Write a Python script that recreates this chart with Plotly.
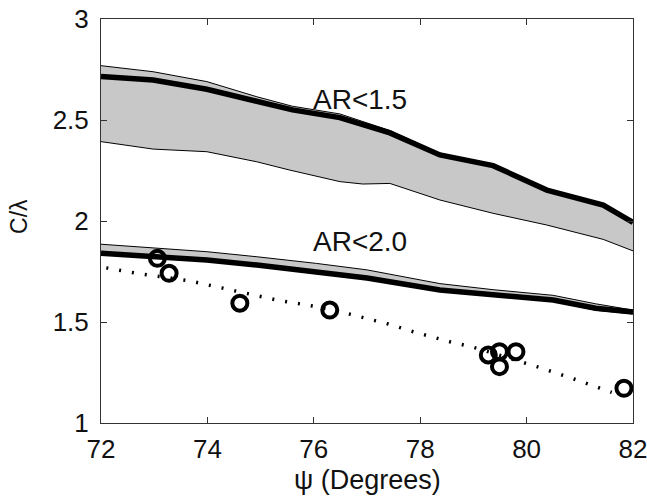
import plotly.graph_objects as go

# ---- data ----
# AR<1.5 band
up_top_x = [72.0, 72.98, 73.99, 74.93, 75.6, 76.49, 77.43, 78.37, 79.37, 80.38, 81.44, 82.0]
up_top_y = [2.769, 2.739, 2.690, 2.615, 2.568, 2.530, 2.448, 2.335, 2.279, 2.157, 2.083, 1.999]

up_mid_x = [72.0, 72.98, 73.99, 74.93, 75.6, 76.49, 77.43, 78.37, 79.37, 80.38, 81.44, 82.0]
up_mid_y = [2.716, 2.698, 2.652, 2.590, 2.550, 2.512, 2.436, 2.327, 2.274, 2.153, 2.079, 1.993]

up_bot_x = [72.0, 72.98, 73.99, 74.93, 75.55, 76.49, 76.92, 77.43, 78.37, 79.37, 80.38, 81.44, 82.0]
up_bot_y = [2.393, 2.356, 2.343, 2.293, 2.252, 2.195, 2.183, 2.186, 2.104, 2.038, 1.980, 1.909, 1.852]

# AR<2.0 band
lo_top_x = [72.0, 72.98, 73.99, 74.93, 76.05, 77.0, 78.37, 79.37, 80.5, 81.3, 82.0]
lo_top_y = [1.885, 1.865, 1.848, 1.823, 1.790, 1.758, 1.690, 1.660, 1.632, 1.590, 1.559]

lo_mid_x = [72.0, 72.98, 73.99, 74.93, 76.05, 77.0, 78.37, 79.37, 80.5, 81.3, 82.0]
lo_mid_y = [1.840, 1.827, 1.807, 1.782, 1.749, 1.718, 1.658, 1.632, 1.609, 1.568, 1.549]

lo_bot_x = [72.0, 72.98, 73.99, 74.93, 76.05, 77.0, 78.37, 79.37, 80.5, 81.3, 82.0]
lo_bot_y = [1.835, 1.822, 1.802, 1.777, 1.744, 1.713, 1.653, 1.627, 1.602, 1.558, 1.540]

# measured points
pts_x = [73.06, 73.28, 74.61, 76.30, 79.28, 79.49, 79.49, 79.80, 81.83]
pts_y = [1.815, 1.741, 1.593, 1.559, 1.337, 1.353, 1.279, 1.353, 1.172]

# dotted fit curve
fit_x = [72.1, 72.67, 73.64, 74.36, 75.3, 76.05, 76.74, 77.4, 77.87, 78.56, 79.0, 80.19, 80.87, 81.6]
fit_y = [1.768, 1.741, 1.705, 1.662, 1.609, 1.576, 1.535, 1.490, 1.452, 1.402, 1.375, 1.279, 1.220, 1.152]

labels_x = [76.87, 76.87]
labels_y = [2.60, 1.897]
labels_t = ["AR&lt;1.5", "AR&lt;2.0"]

x_ticks = [72, 74, 76, 78, 80, 82]
y_ticks = [1, 1.5, 2, 2.5, 3]
y_tick_text = ["1", "1.5", "2", "2.5", "3"]
x_title = "ψ (Degrees)"
y_title = "C/λ"

GREY = "rgb(200,200,200)"
FONT = "Liberation Sans, Arial, Helvetica, sans-serif"

fig = go.Figure()

def band(tx, ty, bx, by):
    fig.add_trace(go.Scatter(
        x=list(tx) + list(bx)[::-1], y=list(ty) + list(by)[::-1],
        fill="toself", fillcolor=GREY, line=dict(width=0),
        mode="lines", hoverinfo="skip", showlegend=False))

band(up_top_x, up_top_y, up_bot_x, up_bot_y)
band(lo_top_x, lo_top_y, lo_bot_x, lo_bot_y)

for xs, ys in [(up_top_x, up_top_y), (up_bot_x, up_bot_y),
               (lo_top_x, lo_top_y), (lo_bot_x, lo_bot_y)]:
    fig.add_trace(go.Scatter(x=xs, y=ys, mode="lines",
                             line=dict(color="black", width=1),
                             showlegend=False))

for xs, ys in [(up_mid_x, up_mid_y), (lo_mid_x, lo_mid_y)]:
    fig.add_trace(go.Scatter(x=xs, y=ys, mode="lines",
                             line=dict(color="black", width=5.5),
                             showlegend=False))

fig.add_trace(go.Scatter(x=fit_x, y=fit_y, mode="lines",
                         line=dict(color="black", width=3.5, dash="2px,11px"),
                         showlegend=False))

fig.add_trace(go.Scatter(x=pts_x, y=pts_y, mode="markers",
                         marker=dict(symbol="circle-open", size=15,
                                     color="black", line=dict(width=4, color="black")),
                         showlegend=False))

for lx, ly, lt in zip(labels_x, labels_y, labels_t):
    fig.add_annotation(x=lx, y=ly, text=lt, showarrow=False,
                       xanchor="center", yanchor="middle",
                       font=dict(size=28, color="#111", family=FONT))

# axis titles
fig.add_annotation(x=0.5, y=0, xref="paper", yref="paper", text=x_title,
                   showarrow=False, xanchor="center", yanchor="middle", yshift=-57,
                   font=dict(size=27, color="#111", family=FONT))
fig.add_annotation(x=0, y=0.51, xref="paper", yref="paper", text=y_title,
                   showarrow=False, xanchor="center", yanchor="middle", xshift=-82,
                   textangle=-90, font=dict(size=23, color="#111", family=FONT))

axis_common = dict(showline=True, linecolor="#333", linewidth=1, mirror="ticks",
                   ticks="inside", ticklen=6, tickcolor="#333", showgrid=False,
                   zeroline=False, ticklabeloverflow="allow", automargin=False,
                   tickfont=dict(size=26, color="#111", family=FONT))

fig.update_xaxes(range=[72, 82], tickvals=x_ticks, ticklabelstandoff=3, **axis_common)
fig.update_yaxes(range=[1, 3], tickvals=y_ticks, ticktext=y_tick_text,
                 ticklabelstandoff=6, **axis_common)

fig.update_layout(width=647, height=500, margin=dict(l=101, r=14, t=19, b=77),
                  plot_bgcolor="white", paper_bgcolor="white")

# remove the default page margin so the figure fills the window exactly
fig.write_html("out.html",
               config={"displayModeBar": False},
               post_script="document.body.style.margin='0';"
                           "document.body.style.overflow='hidden';")
